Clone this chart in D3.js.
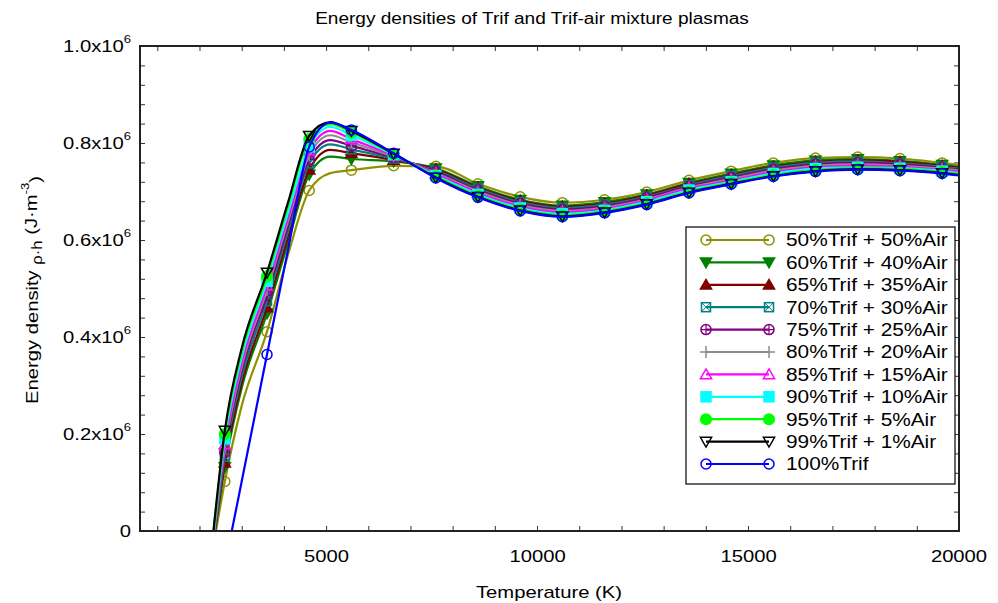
<!DOCTYPE html>
<html>
<head>
<meta charset="utf-8">
<script src="https://cdn.jsdelivr.net/npm/d3@7"></script>
<style>
  body { margin: 0; background: #fff; }
  svg { font-family: "Liberation Sans", Arial, sans-serif; }
</style>
</head>
<body>
<div id="container"></div>
<script>
// Chart size and plot frame.
const width = 998;
const height = 603;
const marginTop = 46;
const marginRight = 39;
const marginBottom = 72;
const marginLeft = 140;
const stretch = 1.19; // text in the original is a little wider than Arial

// Data: energy density in units of 10^6 J/m^3.
const seriesNames = [
  "50%Trif + 50%Air", "60%Trif + 40%Air", "65%Trif + 35%Air", "70%Trif + 30%Air",
  "75%Trif + 25%Air", "80%Trif + 20%Air", "85%Trif + 15%Air", "90%Trif + 10%Air",
  "95%Trif + 5%Air", "99%Trif + 1%Air", "100%Trif"
];
const seriesColors = ["#909000", "#008000", "#800000", "#008080", "#800080", "#8c8c8c",
  "#ff00ff", "#00ffff", "#00ff00", "#000000", "#0000ff"];
const seriesMarkers = ["circleOpen", "triDownFilled", "triUpFilled", "squareX", "circlePlus",
  "plus", "triUpOpen", "squareFilled", "circleFilled", "triDownOpen", "circleOpen"];

// temperature where each curve leaves zero
const onsetT = [2390, 2370, 2365, 2360, 2355, 2350, 2345, 2340, 2335, 2330, 2765];
const temps = [2600, 3000, 3600, 4100, 4600, 5100, 5600, 6600, 7600, 8600, 9600, 10600,
  11600, 12600, 13600, 14600, 15600, 16600, 17600, 18600, 19600, 20000];
const markerTemps = [2600, 3600, 4600, 5600, 6600, 7600, 8600, 9600, 10600, 11600, 12600,
  13600, 14600, 15600, 16600, 17600, 18600, 19600];

const s50 = [0.102, 0.258, 0.411, 0.570, 0.702, 0.738, 0.744, 0.753, 0.752, 0.716, 0.689, 0.677, 0.683, 0.699, 0.723, 0.742, 0.759, 0.769, 0.771, 0.768, 0.759, 0.755];
const s60 = [0.132, 0.295, 0.449, 0.595, 0.735, 0.772, 0.767, 0.762, 0.748, 0.711, 0.683, 0.671, 0.678, 0.694, 0.718, 0.737, 0.754, 0.764, 0.767, 0.763, 0.755, 0.751];
const s65 = [0.141, 0.305, 0.461, 0.606, 0.745, 0.786, 0.779, 0.765, 0.746, 0.708, 0.681, 0.669, 0.675, 0.692, 0.716, 0.734, 0.751, 0.761, 0.764, 0.761, 0.753, 0.749];
const s70 = [0.153, 0.318, 0.474, 0.619, 0.758, 0.797, 0.787, 0.768, 0.743, 0.706, 0.678, 0.666, 0.673, 0.689, 0.713, 0.732, 0.749, 0.759, 0.762, 0.758, 0.751, 0.747];
const s75 = [0.162, 0.330, 0.486, 0.629, 0.766, 0.806, 0.794, 0.770, 0.741, 0.703, 0.675, 0.663, 0.670, 0.687, 0.711, 0.729, 0.746, 0.756, 0.759, 0.756, 0.749, 0.745];
const s80 = [0.170, 0.339, 0.497, 0.639, 0.775, 0.816, 0.801, 0.772, 0.738, 0.700, 0.672, 0.660, 0.667, 0.684, 0.708, 0.726, 0.743, 0.753, 0.756, 0.753, 0.747, 0.743];
const s85 = [0.178, 0.347, 0.505, 0.647, 0.783, 0.825, 0.808, 0.774, 0.736, 0.697, 0.669, 0.657, 0.664, 0.682, 0.706, 0.723, 0.740, 0.750, 0.753, 0.751, 0.744, 0.741];
const s90 = [0.190, 0.358, 0.515, 0.657, 0.792, 0.833, 0.816, 0.776, 0.733, 0.694, 0.666, 0.654, 0.661, 0.679, 0.703, 0.720, 0.737, 0.747, 0.750, 0.748, 0.742, 0.738];
const s95 = [0.200, 0.368, 0.525, 0.670, 0.808, 0.839, 0.822, 0.777, 0.731, 0.691, 0.663, 0.651, 0.659, 0.676, 0.700, 0.718, 0.734, 0.744, 0.748, 0.746, 0.740, 0.736];
const s99 = [0.207, 0.377, 0.533, 0.678, 0.815, 0.843, 0.825, 0.778, 0.729, 0.689, 0.661, 0.649, 0.657, 0.674, 0.698, 0.716, 0.732, 0.742, 0.746, 0.744, 0.738, 0.734];
const s100 = [null, 0.102, 0.364, 0.581, 0.792, 0.842, 0.827, 0.779, 0.728, 0.688, 0.660, 0.648, 0.656, 0.673, 0.697, 0.715, 0.731, 0.741, 0.745, 0.743, 0.737, 0.733];
const seriesValues = [s50, s60, s65, s70, s75, s80, s85, s90, s95, s99, s100];

const xTickLabels = [5000, 10000, 15000, 20000];
const yTickLabels = [0, 0.2, 0.4, 0.6, 0.8, 1.0];

// Scales.
const x = d3.scaleLinear().domain([590, 20000]).range([marginLeft, width - marginRight]);
const y = d3.scaleLinear().domain([0, 1]).range([height - marginBottom, marginTop]);

const svg = d3.create("svg").attr("width", width).attr("height", height);

svg.append("defs").append("clipPath").attr("id", "plot")
  .append("rect")
  .attr("x", marginLeft).attr("y", marginTop)
  .attr("width", width - marginLeft - marginRight)
  .attr("height", height - marginTop - marginBottom);

// Axes: minor ticks drawn inward on all four sides.
const xTicks = d3.range(1000, 20000, 1000);
const yTicks = d3.range(0, 1.0001, 0.04);

svg.append("g")
  .attr("transform", `translate(0,${height - marginBottom})`)
  .call(d3.axisBottom(x).tickValues(xTicks).tickSizeInner(-5).tickSizeOuter(0).tickPadding(19)
    .tickFormat(d => xTickLabels.includes(d) ? d : ""))
  .call(g => g.select(".domain").remove());
svg.append("g")
  .attr("transform", `translate(${x(20000)},${height - marginBottom})`)
  .append("text")
  .attr("y", 19).attr("dy", "0.71em").attr("text-anchor", "middle")
  .text("20000");
svg.append("g")
  .attr("transform", `translate(0,${marginTop})`)
  .call(d3.axisTop(x).tickValues(xTicks).tickSizeInner(-5).tickSizeOuter(0).tickFormat(""))
  .call(g => g.select(".domain").remove());
svg.append("g")
  .attr("transform", `translate(${marginLeft},0)`)
  .call(d3.axisLeft(y).tickValues(yTicks).tickSizeInner(-5).tickSizeOuter(0).tickPadding(9)
    .tickFormat(""))
  .call(g => g.select(".domain").remove());
svg.append("g")
  .attr("transform", `translate(${width - marginRight},0)`)
  .call(d3.axisRight(y).tickValues(yTicks).tickSizeInner(-5).tickSizeOuter(0).tickFormat(""))
  .call(g => g.select(".domain").remove());

svg.selectAll(".tick line").attr("stroke", "#333");
svg.selectAll("text")
  .attr("font-size", 17)
  .attr("font-family", "Liberation Sans, Arial, sans-serif")
  .attr("fill", "#000")
  .attr("transform", `scale(${stretch},1)`);

// y tick labels with superscript exponent
const yLab = svg.append("g").attr("font-size", 17);
yLab.selectAll("text")
  .data(yTickLabels)
  .join("text")
  .attr("transform", d => `translate(${marginLeft - 9},${y(d)}) scale(${stretch},1)`)
  .attr("dy", "0.35em")
  .attr("text-anchor", "end")
  .each(function (d) {
    const t = d3.select(this);
    if (d === 0) { t.text("0"); return; }
    t.append("tspan").text(d.toFixed(1) + "x10");
    t.append("tspan").attr("font-size", 11).attr("dy", "-0.8em").text("6");
  });

// Lines.
const line = d3.line()
  .defined(d => d.v != null)
  .x(d => x(d.t))
  .y(d => y(d.v))
  .curve(d3.curveMonotoneX);

function markerPath(g, type, color, cx, cy) {
  const r = 5;
  const m = g.append("g").attr("transform", `translate(${cx},${cy})`)
    .attr("stroke", color).attr("stroke-width", 1.5).attr("fill", "none");
  const triDown = `M-5.6,-4.3 L5.6,-4.3 L0,5.4 Z`;
  const triUp = `M-5.6,4.3 L5.6,4.3 L0,-5.4 Z`;
  switch (type) {
    case "circleOpen": m.append("circle").attr("r", r); break;
    case "circleFilled": m.append("circle").attr("r", r + 0.3).attr("fill", color); break;
    case "triDownFilled": m.append("path").attr("d", triDown).attr("fill", color); break;
    case "triUpFilled": m.append("path").attr("d", triUp).attr("fill", color); break;
    case "triDownOpen": m.append("path").attr("d", triDown); break;
    case "triUpOpen": m.append("path").attr("d", triUp); break;
    case "squareFilled": m.append("rect").attr("x", -5).attr("y", -5).attr("width", 10).attr("height", 10).attr("fill", color); break;
    case "squareX":
      m.append("rect").attr("x", -4.5).attr("y", -4.5).attr("width", 9).attr("height", 9);
      m.append("path").attr("d", "M-4.5,-4.5L4.5,4.5M-4.5,4.5L4.5,-4.5").attr("stroke-width", 1);
      break;
    case "circlePlus":
      m.append("circle").attr("r", r);
      m.append("path").attr("d", `M${-r},0H${r}M0,${-r}V${r}`).attr("stroke-width", 1.2);
      break;
    case "plus":
      m.append("path").attr("d", "M-6,0H6M0,-6V6");
      break;
  }
}

const plot = svg.append("g").attr("clip-path", "url(#plot)");
seriesValues.forEach((vals, i) => {
  const pts = [{ t: onsetT[i], v: 0 }].concat(
    temps.map((t, j) => ({ t, v: vals[j] })).filter(d => d.v != null && d.t > onsetT[i]));
  const g = plot.append("g");
  g.append("path")
    .datum(pts)
    .attr("fill", "none")
    .attr("stroke", seriesColors[i])
    .attr("stroke-width", 2.2)
    .attr("d", line);
  pts.filter(d => markerTemps.includes(d.t)).forEach(d =>
    markerPath(g, seriesMarkers[i], seriesColors[i], x(d.t), y(d.v)));
});

// Frame.
svg.append("rect")
  .attr("x", marginLeft).attr("y", marginTop)
  .attr("width", width - marginLeft - marginRight)
  .attr("height", height - marginTop - marginBottom)
  .attr("fill", "none").attr("stroke", "#222").attr("stroke-width", 2);

// Legend.
const legend = svg.append("g");
legend.append("rect")
  .attr("x", 686).attr("y", 227).attr("width", 269).attr("height", 257)
  .attr("fill", "#fff").attr("stroke", "#000").attr("stroke-width", 1.2);
seriesNames.forEach((name, i) => {
  const ly = 240 + i * 22.4;
  legend.append("line")
    .attr("x1", 706).attr("x2", 769).attr("y1", ly).attr("y2", ly)
    .attr("stroke", seriesColors[i]).attr("stroke-width", 2.2);
  markerPath(legend, seriesMarkers[i], seriesColors[i], 706, ly);
  markerPath(legend, seriesMarkers[i], seriesColors[i], 769, ly);
  legend.append("text")
    .attr("transform", `translate(786,${ly}) scale(${stretch},1)`)
    .attr("dy", "0.36em")
    .attr("font-size", 17.5)
    .text(name);
});

// Titles.
svg.append("text")
  .attr("transform", `translate(532,24) scale(${stretch},1)`)
  .attr("text-anchor", "middle").attr("font-size", 16)
  .text("Energy densities of Trif and Trif-air mixture plasmas");
svg.append("text")
  .attr("transform", `translate(549,598) scale(${stretch},1)`)
  .attr("text-anchor", "middle").attr("font-size", 17)
  .text("Temperature (K)");
const yTitle = svg.append("text")
  .attr("transform", `translate(38,290) rotate(-90) scale(${stretch},1)`)
  .attr("text-anchor", "middle").attr("font-size", 17);
yTitle.append("tspan").text("Energy density ");
yTitle.append("tspan").attr("font-size", 14).attr("dy", "0.3em").text("ρ·h");
yTitle.append("tspan").attr("dy", "-0.3em").text(" (J·m");
yTitle.append("tspan").attr("font-size", 11).attr("dy", "-0.7em").text("-3");
yTitle.append("tspan").attr("dy", "0.7em").text(")");

document.getElementById("container").append(svg.node());
</script>
</body>
</html>
